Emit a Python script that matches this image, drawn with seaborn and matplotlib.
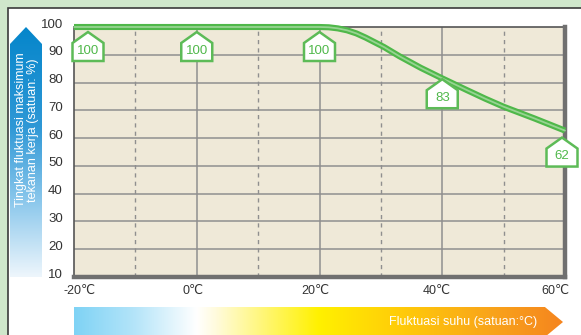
import numpy as np
import pandas as pd
import matplotlib
matplotlib.use("Agg")
import matplotlib.pyplot as plt
import matplotlib.transforms as mtransforms
from matplotlib.patches import Polygon, Rectangle
from matplotlib.colors import LinearSegmentedColormap
import seaborn as sns

# curve
temps = [-20, 0, 20, 21.5, 23, 24.5, 26, 27.5, 29, 30.5, 33, 36.5, 40, 44, 47, 50, 55, 60]
pressure = [100, 100, 100, 99.9, 99.5, 98.8, 97.7, 96.2, 94.5, 92.8, 89.5, 85.3, 81.5, 77.3, 74.2, 71.3, 67.1, 62.7]

label_temps = [-20, 0, 20, 40, 60]
label_vals = [100, 100, 100, 83, 62]
label_dx = [14, 0, 0, 0, -3]  # px shift of the tags

xticks = [-20, 0, 20, 40, 60]
xticklabels = ["-20℃", "0℃", "20℃", "40℃", "60℃"]
xlabel_dx = [5, -4, -4, -6, -10]
yticks = [10, 20, 30, 40, 50, 60, 70, 80, 90, 100]
solid_x = [0, 20, 40]
dashed_x = [-10, 10, 30, 50]

ylabel = "Tingkat fluktuasi maksimum\ntekanan kerja (satuan: %)"
xlabel = "Fluktuasi suhu (satuan:°C)"

GREEN = "#4fb84a"
FONT = ["Liberation Sans", "DejaVu Sans"]

sns.set_style("white")
plt.rcParams["font.family"] = FONT

W, H = 581, 335
fig = plt.figure(figsize=(W / 100, H / 100), dpi=100)
fig.patch.set_facecolor("#cfe7cb")
fig.patches.append(Rectangle((8 / W, -0.1), 1.2, 1.1 - 8 / H, transform=fig.transFigure,
                             facecolor="white", edgecolor="#3a3a3a", lw=1.2, zorder=-10))

ax = fig.add_axes([74 / W, 1 - 277 / H, 491 / W, 250 / H])
ax.set_facecolor("#efe9d8")
ax.set_xlim(-20, 60)
ax.set_ylim(10, 100)

for y in yticks[1:-1]:
    ax.axhline(y, color="#8f8f8f", lw=1.1, zorder=1)
for x in solid_x:
    ax.axvline(x, color="#8f8f8f", lw=1.1, zorder=1)
for x in dashed_x:
    ax.axvline(x, color="#8f8f8f", lw=1.0, ls=(0, (3, 3)), zorder=1)

df = pd.DataFrame({"temp": temps, "val": pressure})
sns.lineplot(data=df, x="temp", y="val", ax=ax, color=GREEN, lw=4.4, zorder=5,
             solid_capstyle="butt", clip_on=False, sort=False)
sns.lineplot(data=df, x="temp", y="val", ax=ax, color="#97d492", lw=1.3, zorder=6,
             clip_on=False, sort=False)

# house shaped value tags
house = np.array([[0, 0], [0.155, -0.11], [0.155, -0.29], [-0.155, -0.29], [-0.155, -0.11]])
for t, v, dx in zip(label_temps, label_vals, label_dx):
    tr = fig.dpi_scale_trans + mtransforms.ScaledTranslation(t, v, ax.transData) \
        + mtransforms.Affine2D().translate(dx, -5)
    ax.add_patch(Polygon(house, closed=True, transform=tr, facecolor="white",
                         edgecolor="#5dbb57", lw=1.8, zorder=8, clip_on=False))
    ax.text(0, -0.185, str(v), transform=tr, ha="center", va="center", fontsize=9.5,
            color="#4fb84a", zorder=9, clip_on=False)

ax.set_xticks(xticks)
ax.set_xticklabels(xticklabels, fontsize=9, color="#333333")
ax.set_yticks(yticks)
ax.set_yticklabels([str(y) for y in yticks], fontsize=9.5, color="#333333")
ax.tick_params(length=0)
ax.tick_params(axis="x", pad=6)
ax.tick_params(axis="y", pad=8)
for lbl in ax.get_yticklabels():
    lbl.set_transform(lbl.get_transform() + mtransforms.Affine2D().translate(0, 4))
for lbl, dx in zip(ax.get_xticklabels(), xlabel_dx):
    lbl.set_transform(lbl.get_transform() + mtransforms.Affine2D().translate(dx, 0))
ax.set_xlabel("")
ax.set_ylabel("")

for side in ["left", "top"]:
    ax.spines[side].set_color("#555555")
    ax.spines[side].set_linewidth(1.2)
for side in ["right", "bottom"]:
    ax.spines[side].set_color("#707070")
    ax.spines[side].set_linewidth(3.2)
    ax.spines[side].set_zorder(4)

# vertical blue arrow (y label)
bx = fig.add_axes([10 / W, 1 - 277 / H, 32 / W, 250 / H])
bx.set_axis_off()
blue = LinearSegmentedColormap.from_list(
    "b", [(0, "#eef6fc"), (0.3, "#8cc8ec"), (0.6, "#2f98d6"), (1, "#0586cb")])
bx.imshow(np.linspace(0, 1, 256).reshape(-1, 1), cmap=blue, origin="lower",
          extent=[0, 1, 0, 1], aspect="auto")
clip = Polygon([[0, 0], [1, 0], [1, 0.932], [0.5, 1], [0, 0.932]], closed=True,
               transform=bx.transAxes, facecolor="none", edgecolor="none")
bx.add_patch(clip)
bx.images[0].set_clip_path(clip)
bx.set_xlim(0, 1)
bx.set_ylim(0, 1)
fig.text(27 / W, 1 - 130 / H, ylabel, rotation=90, ha="center", va="center",
         multialignment="center", color="white", fontsize=9, linespacing=1.1)

# horizontal temperature arrow (x label)
tx = fig.add_axes([74 / W, -2 / H, 489 / W, 30 / H])
tx.set_axis_off()
warm = LinearSegmentedColormap.from_list(
    "w", [(0, "#7fd3f5"), (0.12, "#b3e4f9"), (0.25, "#ffffff"), (0.29, "#fffbdc"),
          (0.5, "#fff100"), (0.68, "#ffc90a"), (0.85, "#f9a51a"), (1, "#f5851f")])
tx.imshow(np.linspace(0, 1, 256).reshape(1, -1), cmap=warm, extent=[0, 1, 0, 1],
          aspect="auto")
clip2 = Polygon([[0, 0], [0.963, 0], [1, 0.5], [0.963, 1], [0, 1]], closed=True,
                transform=tx.transAxes, facecolor="none", edgecolor="none")
tx.add_patch(clip2)
tx.images[0].set_clip_path(clip2)
tx.set_xlim(0, 1)
tx.set_ylim(0, 1)
fig.text(537 / W, 1 - 322 / H, xlabel, ha="right", va="center", color="white", fontsize=9)

fig.savefig("out.png", dpi=100, facecolor=fig.get_facecolor())
